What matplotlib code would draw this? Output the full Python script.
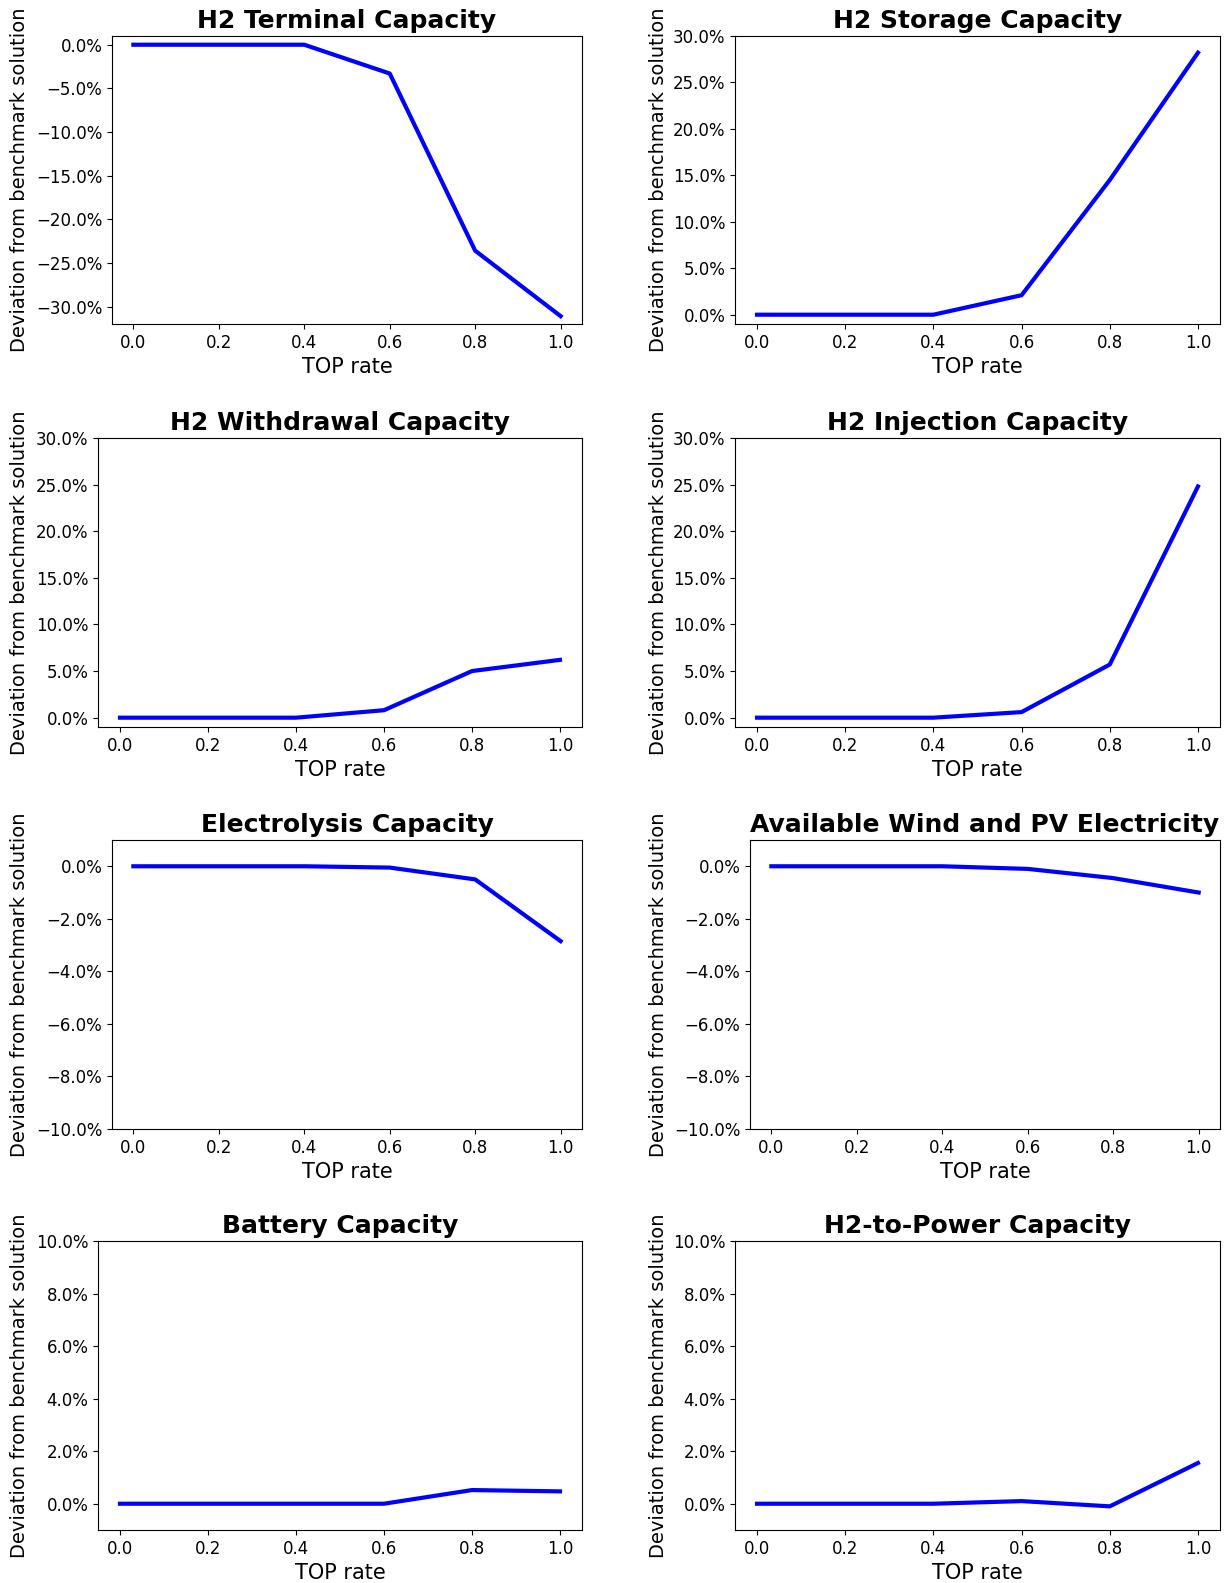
import matplotlib
matplotlib.use("Agg")
import matplotlib.pyplot as plt
from matplotlib.ticker import PercentFormatter

# TOP rate values (x axis)
top_rate = [0.0, 0.2, 0.4, 0.6, 0.8, 1.0]

# deviation from benchmark solution (fractions)
h2_terminal = [0.0, 0.0, 0.0, -0.033, -0.236, -0.311]
h2_storage = [0.0, 0.0, 0.0, 0.021, 0.145, 0.282]
h2_withdrawal = [0.0, 0.0, 0.0, 0.008, 0.050, 0.062]
h2_injection = [0.0, 0.0, 0.0, 0.006, 0.057, 0.248]
electrolysis = [0.0, 0.0, 0.0, -0.0005, -0.005, -0.0285]
wind_pv = [0.0, 0.0, 0.0, -0.001, -0.0045, -0.010]
battery = [0.0, 0.0, 0.0, 0.0, 0.0052, 0.0047]
h2_to_power = [0.0, 0.0, 0.0, 0.001, -0.001, 0.0155]

titles = ["H2 Terminal Capacity", "H2 Storage Capacity",
          "H2 Withdrawal Capacity", "H2 Injection Capacity",
          "Electrolysis Capacity", "Available Wind and PV Electricity",
          "Battery Capacity", "H2-to-Power Capacity"]
series = [h2_terminal, h2_storage, h2_withdrawal, h2_injection,
          electrolysis, wind_pv, battery, h2_to_power]
ylims = [(-0.32, 0.01), (-0.01, 0.30), (-0.01, 0.30), (-0.01, 0.30),
         (-0.10, 0.01), (-0.10, 0.01), (-0.01, 0.10), (-0.01, 0.10)]

W, H = 1225, 1583
fig = plt.figure(figsize=(W / 100, H / 100), dpi=100)

# axes boxes in pixels: left, right, top, bottom
row_tb = [(36, 324), (438, 727), (840, 1129), (1241, 1530)]
lefts = [112, 735, 98, 735, 112, 750, 98, 735]
rights = [582, 1220]
ylabel_x = [29, 668]

for i in range(8):
    r, c = divmod(i, 2)
    t, b = row_tb[r]
    l = lefts[i]
    ax = fig.add_axes([l / W, 1 - b / H, (rights[c] - l) / W, (b - t) / H])
    ax.plot(top_rate, series[i], color="blue", linewidth=3)
    ax.set_ylim(*ylims[i])
    ax.yaxis.set_major_formatter(PercentFormatter(xmax=1, decimals=1))
    ax.set_title(titles[i], fontsize=18, fontweight="bold")
    ax.set_xlabel("TOP rate", fontsize=15)
    ax.set_ylabel("Deviation from benchmark solution", fontsize=14)
    ax.yaxis.set_label_coords(ylabel_x[c] / W, 1 - (t + b) / 2 / H,
                              transform=fig.transFigure)
    ax.tick_params(labelsize=12)

fig.savefig("out.png", dpi=100)
